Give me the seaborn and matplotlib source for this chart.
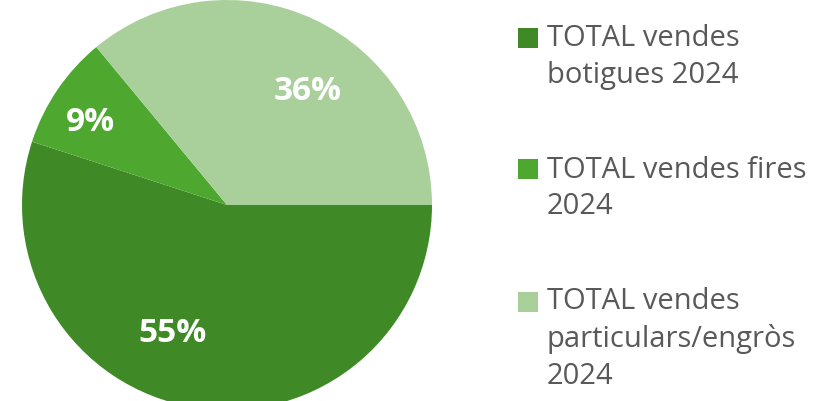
import numpy as np
import matplotlib.pyplot as plt
import seaborn as sns

# data
categories = ["TOTAL vendes\nbotigues 2024",
              "TOTAL vendes fires\n2024",
              "TOTAL vendes\nparticulars/engròs\n2024"]
shares = [55, 9, 36]
colors = ["#3f8a26", "#4ea72e", "#a9d09b"]

# label placement (angle nudge in degrees, distance from centre)
label_nudge = [-14, 3, -10]
label_dist = [0.68, 0.78, 0.68]

sns.set_theme(style="white")
plt.rcParams['font.family'] = ['Open Sans', 'DejaVu Sans']

fig = plt.figure(figsize=(8.28, 4.01), dpi=100)
ax = fig.add_axes([22/828, -9/401, 410/828, 410/401])

wedges, texts, autotexts = ax.pie(shares,
                                  colors=colors,
                                  startangle=0,
                                  counterclock=False,
                                  autopct='%.0f%%',
                                  pctdistance=0.7,
                                  textprops=dict(color='white', fontsize=24, fontweight='bold'),
                                  wedgeprops=dict(linewidth=0))
for w, t, d, r in zip(wedges, autotexts, label_nudge, label_dist):
    a = np.deg2rad((w.theta1 + w.theta2) / 2 + d)
    t.set_position((r * np.cos(a), r * np.sin(a)))

ax.set_xlim(-1, 1)
ax.set_ylim(-1, 1)
ax.set_aspect('equal')

leg = fig.legend(wedges, categories,
                 loc='upper left',
                 bbox_to_anchor=(518/828, 1 - 24/401),
                 frameon=False,
                 fontsize=21,
                 labelcolor='#595959',
                 handlelength=0.68,
                 handleheight=0.68,
                 handletextpad=0.3,
                 labelspacing=2.25,
                 borderaxespad=0,
                 borderpad=0)

# markers sit next to the first line of each label
for t, h in zip(leg.get_texts(), leg.legend_handles):
    t.set_linespacing(1.36)
    n = t.get_text().count("\n")
    h.set_y(h.get_y() + n * 13.3 + 1)

plt.savefig('out.png', dpi=100)
